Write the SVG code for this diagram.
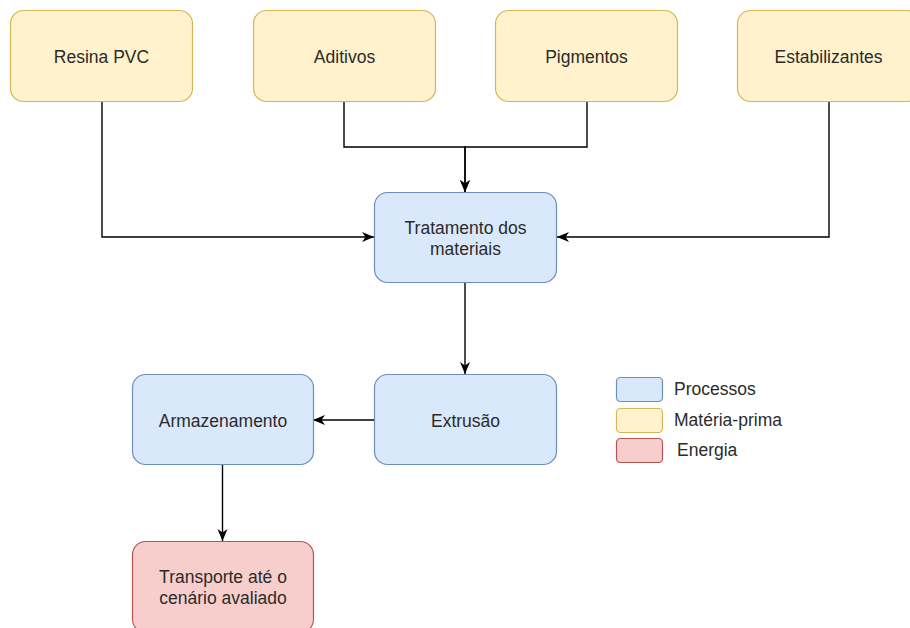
<svg xmlns="http://www.w3.org/2000/svg" width="910" height="628" viewBox="0 0 910 628">
  <defs>
    <marker id="arr" viewBox="0 0 12 12" refX="12" refY="6" markerWidth="12" markerHeight="12" markerUnits="userSpaceOnUse" orient="auto">
      <path d="M0,1 L12,6 L0,11 L3.5,6 Z" fill="#000"/>
    </marker>
  </defs>
  <style>
    .raw rect { fill: #fff2cc; stroke: #d6b656; stroke-width: 1.2; }
    .proc rect { fill: #dae8fc; stroke: #6c8ebf; stroke-width: 1.2; }
    .ene rect { fill: #f8cecc; stroke: #b85450; stroke-width: 1.2; }
    text { font-family: "Liberation Sans", Arial, sans-serif; font-size: 17.5px; fill: #2b2b2b; }
    .c { text-anchor: middle; }
    .edge { fill: none; stroke: #000; stroke-width: 1.4; marker-end: url(#arr); }
  </style>
  <rect width="910" height="628" fill="#fff"/>

  <g id="connectors">
    <path class="edge" d="M102,102 V237 H374"/>
    <path class="edge" d="M344,102 V147 H465 V192"/>
    <path class="edge" d="M587,102 V147 H465 V192"/>
    <path class="edge" d="M829,102 V237 H557"/>
    <path class="edge" d="M465,283 V374"/>
    <path class="edge" d="M374,420 H313"/>
    <path class="edge" d="M222.5,465 V541"/>
  </g>

  <g id="resina" class="raw">
    <rect x="10.5" y="10.5" width="182" height="91" rx="13"/>
    <text class="c" x="101.5" y="63">Resina PVC</text>
  </g>
  <g id="aditivos" class="raw">
    <rect x="253.5" y="10.5" width="182" height="91" rx="13"/>
    <text class="c" x="344.5" y="63">Aditivos</text>
  </g>
  <g id="pigmentos" class="raw">
    <rect x="495.5" y="10.5" width="182" height="91" rx="13"/>
    <text class="c" x="586.5" y="63">Pigmentos</text>
  </g>
  <g id="estabilizantes" class="raw">
    <rect x="737.5" y="10.5" width="182" height="91" rx="13"/>
    <text class="c" x="828.5" y="63">Estabilizantes</text>
  </g>

  <g id="tratamento" class="proc">
    <rect x="374.5" y="192.5" width="182" height="90" rx="13"/>
    <text class="c" x="465.5" y="234">Tratamento dos</text>
    <text class="c" x="465.5" y="255">materiais</text>
  </g>
  <g id="extrusao" class="proc">
    <rect x="374.5" y="374.5" width="182" height="90" rx="13"/>
    <text class="c" x="465.5" y="427">Extrusão</text>
  </g>
  <g id="armazenamento" class="proc">
    <rect x="132.5" y="374.5" width="181" height="90" rx="13"/>
    <text class="c" x="223" y="427">Armazenamento</text>
  </g>
  <g id="transporte" class="ene">
    <rect x="132.5" y="541.5" width="181" height="91" rx="13"/>
    <text class="c" x="223" y="583">Transporte até o</text>
    <text class="c" x="223" y="604">cenário avaliado</text>
  </g>

  <g id="legend">
    <g id="leg-proc" class="proc">
      <rect x="616.5" y="377.5" width="46" height="24" rx="4"/>
      <text x="674" y="395">Processos</text>
    </g>
    <g id="leg-raw" class="raw">
      <rect x="616.5" y="408.5" width="46" height="24" rx="4"/>
      <text x="674" y="426">Matéria-prima</text>
    </g>
    <g id="leg-ene" class="ene">
      <rect x="616.5" y="438.5" width="46" height="24" rx="4"/>
      <text x="677" y="456">Energia</text>
    </g>
  </g>
</svg>
